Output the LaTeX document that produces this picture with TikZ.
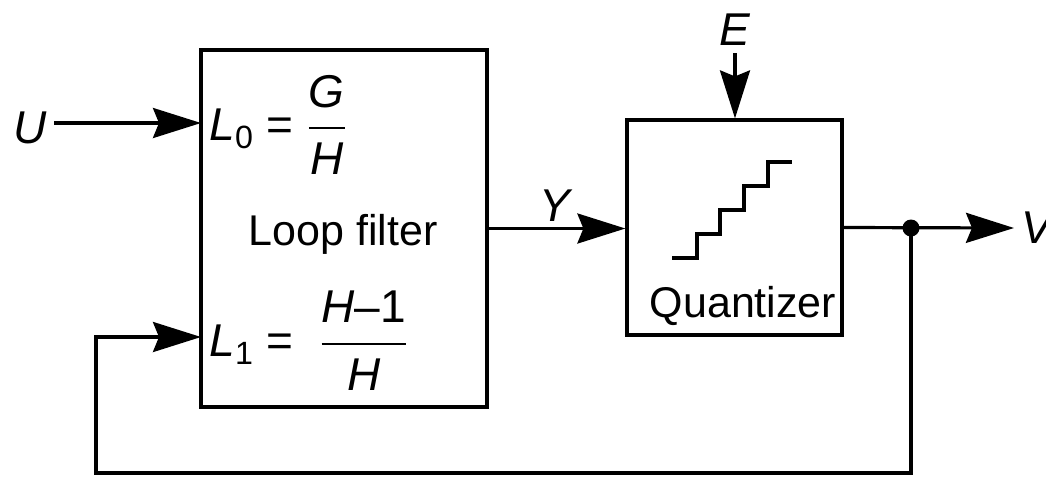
\documentclass[tikz,border=0pt]{standalone}
\usepackage{fontspec}
\usepackage{amsmath}
\setmainfont{Liberation Sans}
\usetikzlibrary{positioning, arrows.meta}

\begin{document}
\begin{tikzpicture}[x=0.5pt, y=-0.5pt, line width=1.6pt,
    blockbox/.style={draw, line width=1.6pt, inner sep=0pt},
    flow/.style={-{Stealth[length=24pt,width=15pt,inset=3pt]}},
    sig/.style={font=\fontsize{23}{27}\selectfont\itshape, inner sep=3pt},
    lbl/.style={font=\fontsize{21.5}{26}\selectfont, inner sep=0pt},
    tapdot/.style={circle, fill, inner sep=0pt, minimum size=8.5pt}]
  \useasboundingbox (0,0) rectangle (1046,478);
  \node[blockbox, minimum width=143pt, minimum height=178.5pt] (filt) at (344,228.5) {};
  \node[blockbox, minimum width=107.5pt, minimum height=107.5pt] (quant) at (734.5,227.5) {};
  \coordinate (in0) at (201,123);
  \coordinate (in1) at (201,337);
  \coordinate (fbot) at (96,473);
  \node[lbl, anchor=west] (l0) at (208,125)
    {{\fontsize{23}{27}\selectfont\textit{L}\textsubscript{0} = $\dfrac{\textit{G}}{\textit{H}}$}};
  \node[lbl, anchor=west] (l1) at (208,341)
    {{\fontsize{23}{27}\selectfont\textit{L}\textsubscript{1} = \ $\dfrac{\textit{H}\text{–1}}{\textit{H}}$}};
  \node[lbl] (looptxt) at (343,234) {Loop filter};
  \node[lbl] (qtxt) at (743,306) {Quantizer};
  \draw[line width=1.8pt] (672,258) -| (697,234) -| (720,210) -| (744,186) -| (768,162) -- (792,162);
  \node[sig] (u) at (30,128) {U};
  \node[sig] (e) at (735,30) {E};
  \node[sig] (y) at (555,206) {Y};
  \node[sig, anchor=west] (v) at (1014,228) {V};
  \node[tapdot] (tap) at (911,228) {};
  \draw[flow] (u.east |- in0) -- (in0);
  \draw[flow] (e.south) -- (e.south |- quant.north);
  \draw[flow] (filt.east) -- (filt.east -| quant.west);
  \draw[flow] (quant.east) -- (v.west);
  \draw[flow] (tap.center) |- (fbot) |- (in1);
\end{tikzpicture}
\end{document}
